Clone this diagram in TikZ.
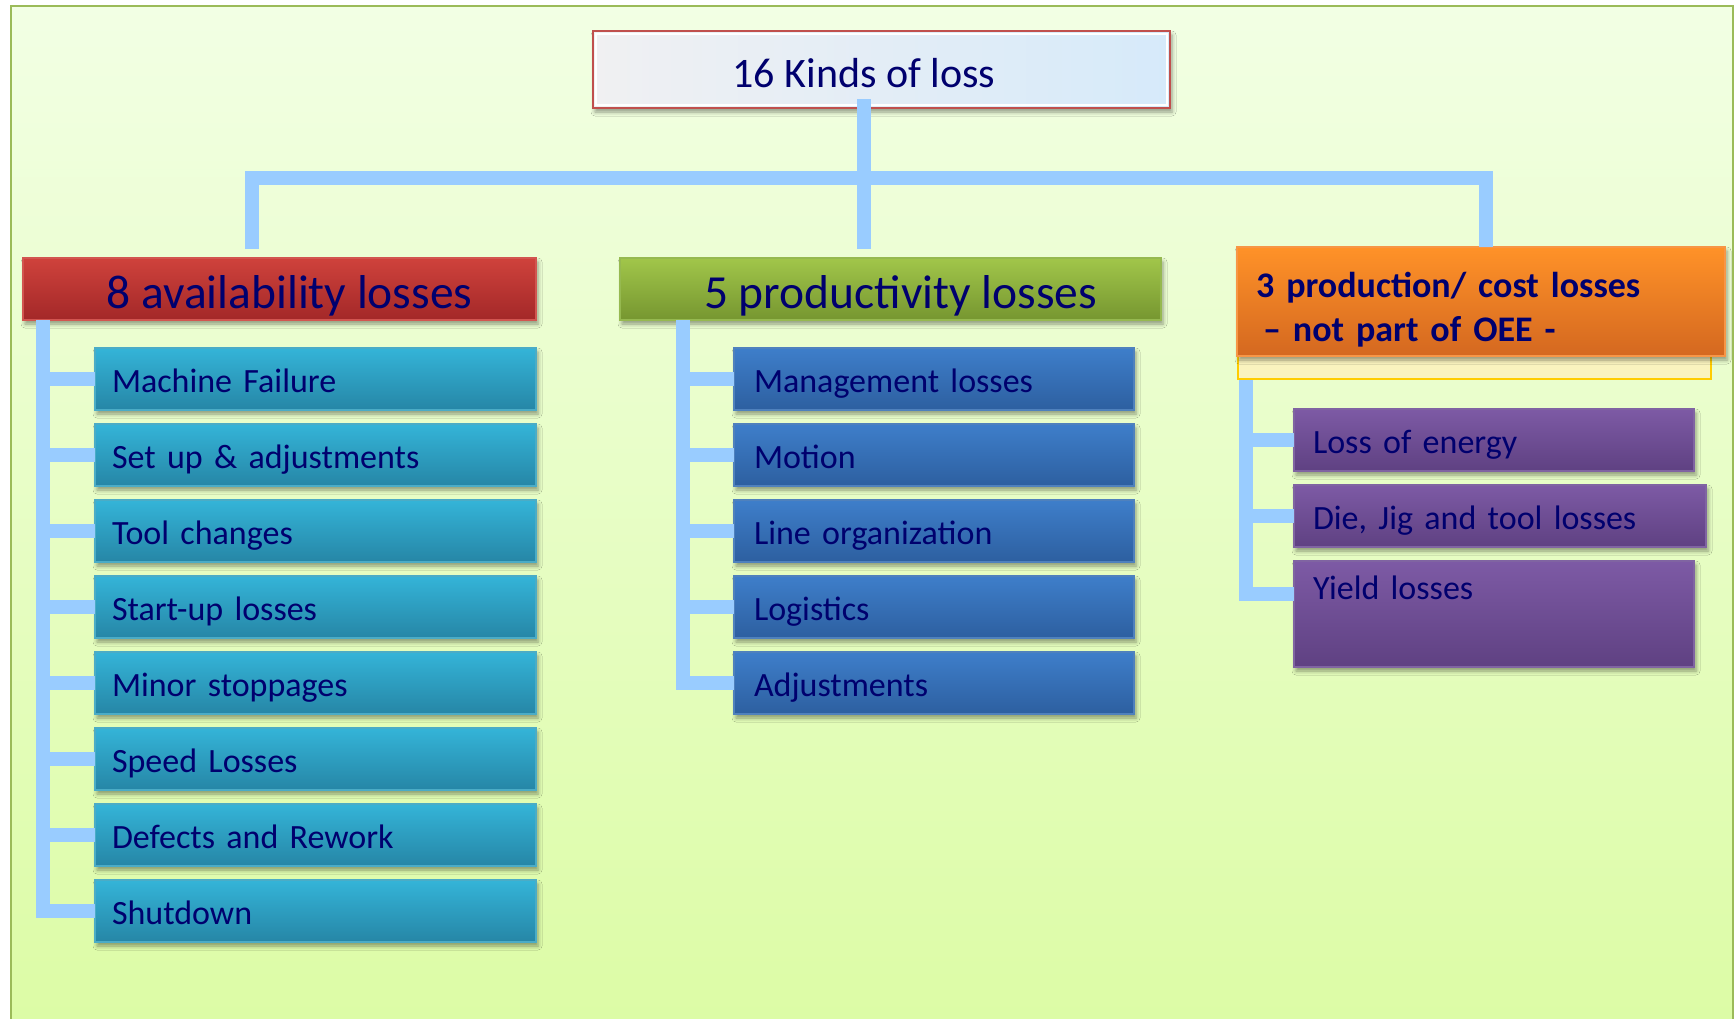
\documentclass[tikz,border=0pt]{standalone}
\usepackage{fontspec}
\setmainfont{Carlito}
\usetikzlibrary{shadows.blur}

\definecolor{ink}{RGB}{0,0,110}
\definecolor{linkblue}{RGB}{153,204,255}
\definecolor{framegreen}{RGB}{155,187,89}
\definecolor{bgtop}{RGB}{242,255,228}
\definecolor{bgbot}{RGB}{220,252,165}
\definecolor{titleline}{RGB}{192,80,77}
\definecolor{titleleft}{RGB}{240,240,242}
\definecolor{titleright}{RGB}{214,234,250}
\definecolor{redline}{RGB}{210,85,80}
\definecolor{redtop}{RGB}{207,66,60}
\definecolor{redbot}{RGB}{163,40,40}
\definecolor{greenline}{RGB}{150,185,80}
\definecolor{greentop}{RGB}{161,198,74}
\definecolor{greenbot}{RGB}{118,150,48}
\definecolor{orangeline}{RGB}{247,150,70}
\definecolor{orangetop}{RGB}{255,146,40}
\definecolor{orangebot}{RGB}{212,104,32}
\definecolor{goldline}{RGB}{255,204,0}
\definecolor{paleyellow}{RGB}{250,243,190}
\definecolor{cyanline}{RGB}{75,172,198}
\definecolor{cyantop}{RGB}{52,180,216}
\definecolor{cyanbot}{RGB}{38,134,166}
\definecolor{blueline}{RGB}{79,129,189}
\definecolor{bluetop}{RGB}{62,126,202}
\definecolor{bluebot}{RGB}{45,95,160}
\definecolor{purpleline}{RGB}{128,100,162}
\definecolor{purpletop}{RGB}{125,90,165}
\definecolor{purplebot}{RGB}{95,65,130}

\begin{document}
\begin{tikzpicture}[x=1pt,y=-1pt,
  conn/.style={draw=linkblue, line width=14pt, line join=miter},
  card/.style={anchor=north west, inner ysep=0pt, outer sep=0pt, line width=1.2pt, text=ink,
    blur shadow={shadow xshift=2pt, shadow yshift=-4pt, shadow blur radius=4pt, shadow opacity=40}},
  heading/.style={card, inner xsep=0pt, minimum height=62pt, text height=38pt, text depth=0pt,
    font=\fontsize{47.5}{55}\selectfont},
  item/.style={card, minimum height=62pt, text height=26pt, text depth=0pt, align=left,
    font=\fontsize{34}{40}\selectfont},
  cyanitem/.style={item, inner xsep=17pt, text width=407pt, draw=cyanline,
    top color=cyantop, bottom color=cyanbot},
  blueitem/.style={item, inner xsep=20pt, text width=360pt, draw=blueline,
    top color=bluetop, bottom color=bluebot},
  purpleitem/.style={item, inner xsep=19pt, text width=#1, draw=purpleline,
    top color=purpletop, bottom color=purplebot},
  purpleitem/.default=362pt
]
\useasboundingbox (0,0) rectangle (1734,1018);

% backdrop panel
\path[draw=framegreen, line width=2.5pt, top color=bgtop, bottom color=bgbot]
  (11,6) rectangle (1733,1030);

% root
\node[card, draw=titleline, line width=1.8pt, left color=titleleft, right color=titleright,
  inner xsep=0pt, minimum width=577pt, minimum height=77pt, text height=35pt, text depth=0pt,
  font=\fontsize{42}{50}\selectfont] (top) at (593,31) {\hspace*{-35pt}16 Kinds of loss};
\draw[white, line width=1.2pt] ([xshift=3pt,yshift=-3pt]top.north west) rectangle ([xshift=-3pt,yshift=3pt]top.south east);

% group headings
\node[heading, draw=redline, top color=redtop, bottom color=redbot, minimum width=513pt]
  (avail) at (23,258) {\hspace*{20pt}8 availability losses};
\node[heading, draw=greenline, top color=greentop, bottom color=greenbot, minimum width=541pt]
  (prod) at (620,258) {\hspace*{20pt}5 productivity losses};

\node[anchor=north west, draw=goldline, line width=2pt, fill=paleyellow, inner sep=0pt,
  minimum width=473pt, minimum height=131pt] (costbase) at (1237,247) {};
\node[card, draw=orangeline, top color=orangetop, bottom color=orangebot,
  inner xsep=19pt, text width=450pt, minimum height=109pt, align=left,
  text height=0pt, text depth=9pt, font=\bfseries\fontsize{36}{44}\selectfont]
  (cost) at (1237,247) {3 production/ cost losses\\\hspace*{7pt}\textendash{} not part of OEE -};

% availability losses
\node[cyanitem] (a1) at (95,348) {Machine Failure};
\node[cyanitem] (a2) at (95,424) {Set up \& adjustments};
\node[cyanitem] (a3) at (95,500) {Tool changes};
\node[cyanitem] (a4) at (95,576) {Start-up losses};
\node[cyanitem] (a5) at (95,652) {Minor stoppages};
\node[cyanitem] (a6) at (95,728) {Speed Losses};
\node[cyanitem] (a7) at (95,804) {Defects and Rework};
\node[cyanitem] (a8) at (95,880) {Shutdown};

% productivity losses
\node[blueitem] (p1) at (734,348) {Management losses};
\node[blueitem] (p2) at (734,424) {Motion};
\node[blueitem] (p3) at (734,500) {Line organization};
\node[blueitem] (p4) at (734,576) {Logistics};
\node[blueitem] (p5) at (734,652) {Adjustments};

% production / cost losses
\node[purpleitem] (c1) at (1294,409) {Loss of energy};
\node[purpleitem=374pt] (c2) at (1294,485) {Die, Jig and tool losses};
\node[purpleitem, minimum height=106pt, text height=0pt, text depth=30pt] (c3) at (1294,561) {Yield losses};

% tree connectors
\coordinate (hub) at (864,178);
\coordinate (busL) at (252,178);
\coordinate (busR) at (1486,178);
\draw[conn] ([yshift=9pt]top.south -| hub) -- ([yshift=9pt]prod.north -| hub);
\draw[conn] ([yshift=9pt]avail.north -| busL) -- (busL) -- (busR) -- (cost.north -| busR);

\foreach \n in {a1,a2,a3,a4,a5,a6,a7,a8}
  \draw[conn] ([xshift=20pt]avail.south west) |- (\n.west);
\foreach \n in {p1,p2,p3,p4,p5}
  \draw[conn] ([xshift=63pt]prod.south west) |- (\n.west);
\draw[conn] ([xshift=9pt]costbase.south west) |- (c1.west);
\draw[conn] ([xshift=9pt]costbase.south west) |- (c2.west);
\draw[conn] ([xshift=9pt]costbase.south west) |- ([yshift=-33pt]c3.north west);
\end{tikzpicture}
\end{document}
